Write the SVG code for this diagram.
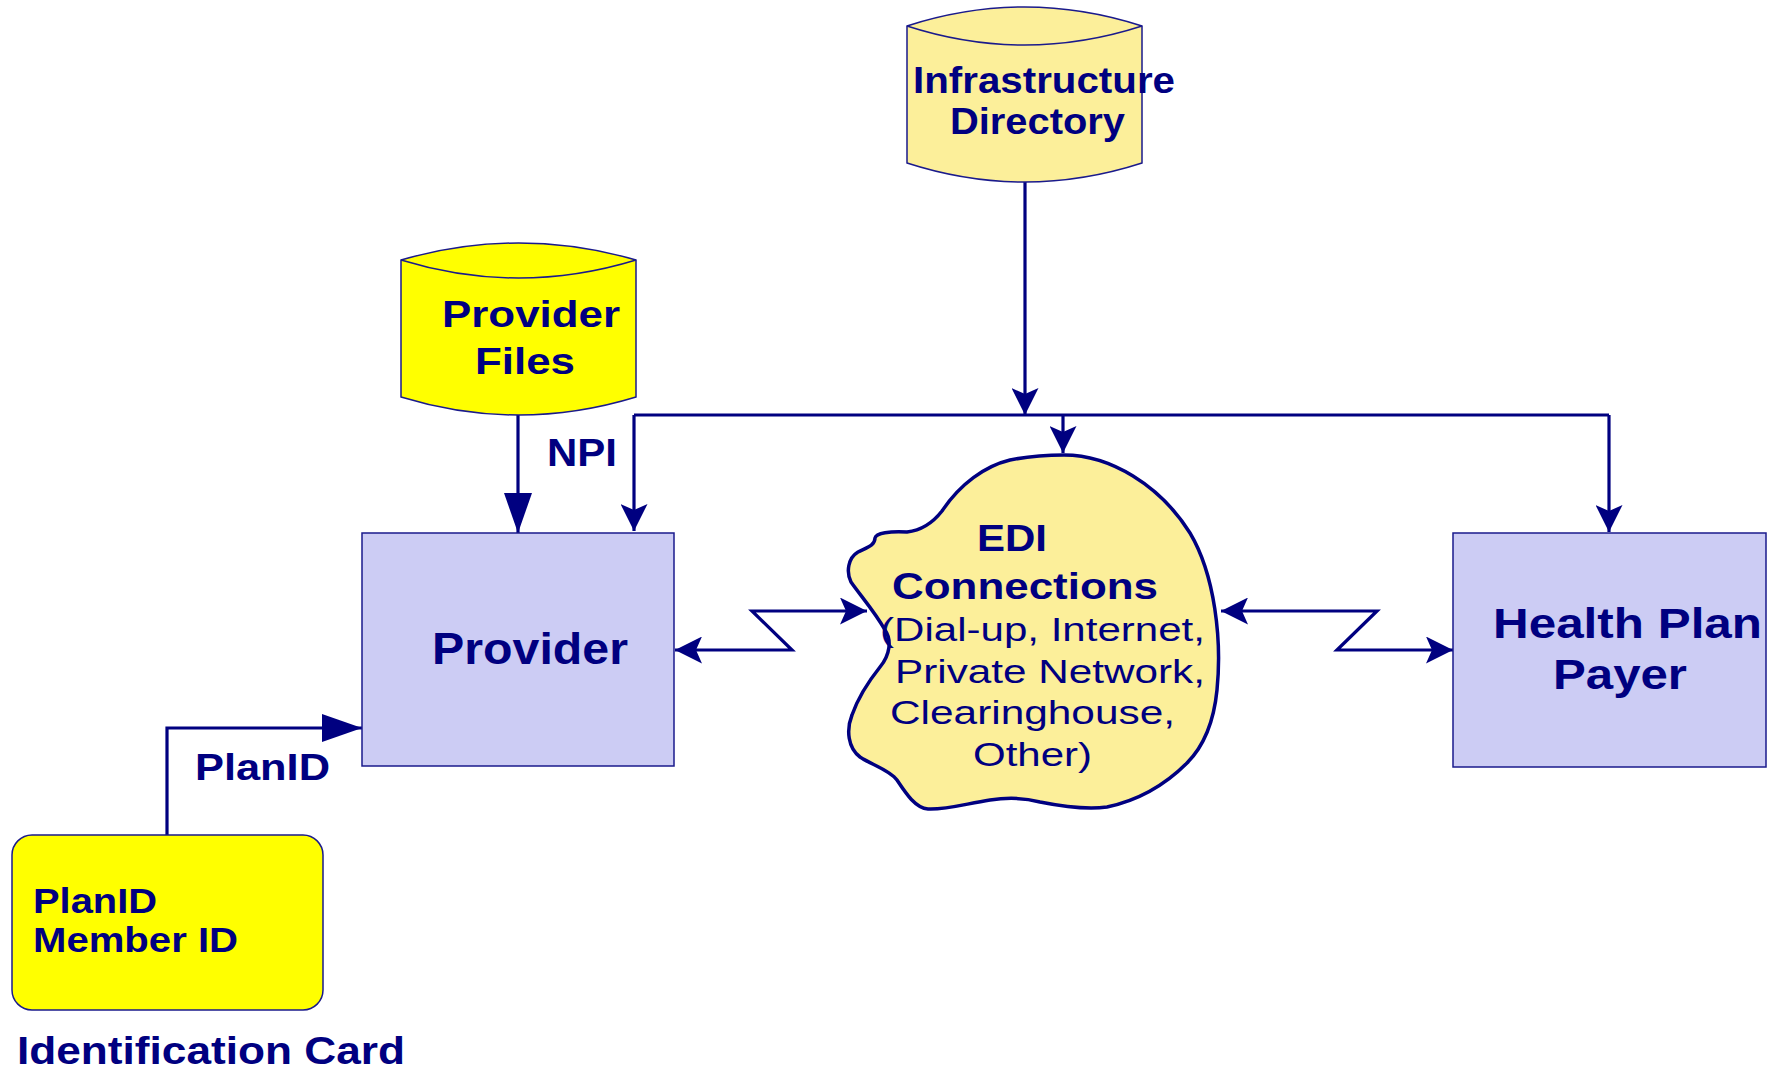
<svg xmlns="http://www.w3.org/2000/svg" width="1780" height="1070" viewBox="0 0 1780 1070">
<style>
.b{font-family:"Liberation Sans",Arial,sans-serif;font-weight:bold;fill:#000080}
.r{font-family:"Liberation Sans",Arial,sans-serif;fill:#000080}
.box{fill:#CCCCF4;stroke:#1A1A8C;stroke-width:1.5}
.db{fill:#FCEF9A;stroke:#1A1A8C;stroke-width:1.5}
.cloud{fill:#FCEF9A;stroke:#000080;stroke-width:3.5}
.dbY{fill:#FFFF00;stroke:#1A1A8C;stroke-width:1.5}
.cn{fill:none;stroke:#000080;stroke-width:3.2}
</style>
<defs>
<marker id="arr" markerUnits="userSpaceOnUse" markerWidth="27" markerHeight="27" viewBox="0 0 27 27" refX="27" refY="13.5" orient="auto-start-reverse">
<path d="M0,0 L27,13.5 L0,27 L6,13.5 Z" fill="#000080"/>
</marker>
<marker id="arrL" markerUnits="userSpaceOnUse" markerWidth="40" markerHeight="28" viewBox="0 0 40 28" refX="40" refY="14" orient="auto">
<path d="M0,0 L40,14 L0,28 Z" fill="#000080"/>
</marker>
</defs>
<rect width="1780" height="1070" fill="#FFFFFF"/>

<g id="connectors">
<path class="cn" d="M1025,182 V415" marker-end="url(#arr)"/>
<path class="cn" d="M634,415 H1609"/>
<path class="cn" d="M634,415 V531" marker-end="url(#arr)"/>
<path class="cn" d="M1063,415 V453" marker-end="url(#arr)"/>
<path class="cn" d="M1609,415 V532" marker-end="url(#arr)"/>
<path class="cn" d="M518,415 V533" marker-end="url(#arrL)"/>
<path class="cn" d="M675,650 H792 L752,611 H867" marker-start="url(#arr)" marker-end="url(#arr)"/>
<path class="cn" d="M1221,611 H1377 L1337,650 H1453" marker-start="url(#arr)" marker-end="url(#arr)"/>
<path class="cn" d="M167,835 V728 H362" marker-end="url(#arrL)"/>
</g>

<g id="infrastructure-directory">
<path class="db" d="M907,26 Q1024.5,-12 1142,26 L1142,163 Q1024.5,201 907,163 Z"/>
<path class="db" d="M907,26 Q1024.5,64 1142,26" fill="none"/>
<text class="b" font-size="37" x="913" y="93" textLength="262" lengthAdjust="spacingAndGlyphs">Infrastructure</text>
<text class="b" font-size="37" x="950" y="134" textLength="175" lengthAdjust="spacingAndGlyphs">Directory</text>
</g>

<g id="provider-files">
<path class="dbY" d="M401,260 Q518.5,226 636,260 L636,397 Q518.5,433 401,397 Z"/>
<path class="dbY" d="M401,260 Q518.5,296 636,260" fill="none"/>
<text class="b" font-size="37" x="442" y="327" textLength="178" lengthAdjust="spacingAndGlyphs">Provider</text>
<text class="b" font-size="37" x="475" y="374" textLength="100" lengthAdjust="spacingAndGlyphs">Files</text>
</g>

<g id="npi-label">
<text class="b" font-size="38" x="547" y="466" textLength="70" lengthAdjust="spacingAndGlyphs">NPI</text>
</g>

<g id="provider">
<rect class="box" x="362" y="533" width="312" height="233"/>
<text class="b" font-size="45" x="432" y="664" textLength="196" lengthAdjust="spacingAndGlyphs">Provider</text>
</g>

<g id="edi-connections">
<path class="cloud" d="M1064,455 C1110,455 1160,485 1190,533 C1215,575 1222,640 1217,690 C1214,720 1205,745 1187,763 C1165,785 1140,800 1107,807 C1085,810 1060,806 1040,802 C1025,798 1010,797 990,800 C965,804 945,810 928,809 C915,808 905,792 897,780 C890,770 870,764 860,757 C848,748 846,730 852,715 C858,698 868,682 880,667 C890,655 892,640 885,630 C875,612 860,595 851,582 C846,572 848,558 858,552 C868,547 875,545 875,538 C876,533 890,531 907,532 C925,530 935,520 942,511 C960,484 985,466 1010,460 C1030,456 1048,455 1064,455 Z"/>
<text class="b" font-size="37" x="977" y="551" textLength="70" lengthAdjust="spacingAndGlyphs">EDI</text>
<text class="b" font-size="37" x="892" y="599" textLength="266" lengthAdjust="spacingAndGlyphs">Connections</text>
<text class="r" font-size="33" x="880" y="641" textLength="325" lengthAdjust="spacingAndGlyphs">(Dial-up, Internet,</text>
<text class="r" font-size="33" x="895" y="683" textLength="310" lengthAdjust="spacingAndGlyphs">Private Network,</text>
<text class="r" font-size="33" x="890" y="724" textLength="285" lengthAdjust="spacingAndGlyphs">Clearinghouse,</text>
<text class="r" font-size="33" x="973" y="766" textLength="119" lengthAdjust="spacingAndGlyphs">Other)</text>
</g>

<g id="health-plan-payer">
<rect class="box" x="1453" y="533" width="313" height="234"/>
<text class="b" font-size="43" x="1493" y="638" textLength="269" lengthAdjust="spacingAndGlyphs">Health Plan</text>
<text class="b" font-size="43" x="1553" y="689" textLength="134" lengthAdjust="spacingAndGlyphs">Payer</text>
</g>

<g id="planid-label">
<text class="b" font-size="37" x="195" y="780" textLength="135" lengthAdjust="spacingAndGlyphs">PlanID</text>
</g>

<g id="identification-card">
<rect class="dbY" x="12" y="835" width="311" height="175" rx="20" ry="20"/>
<text class="b" font-size="35" x="33" y="913" textLength="124" lengthAdjust="spacingAndGlyphs">PlanID</text>
<text class="b" font-size="35" x="33" y="952" textLength="205" lengthAdjust="spacingAndGlyphs">Member ID</text>
<text class="b" font-size="38" x="17" y="1064" textLength="388" lengthAdjust="spacingAndGlyphs">Identification Card</text>
</g>
</svg>
